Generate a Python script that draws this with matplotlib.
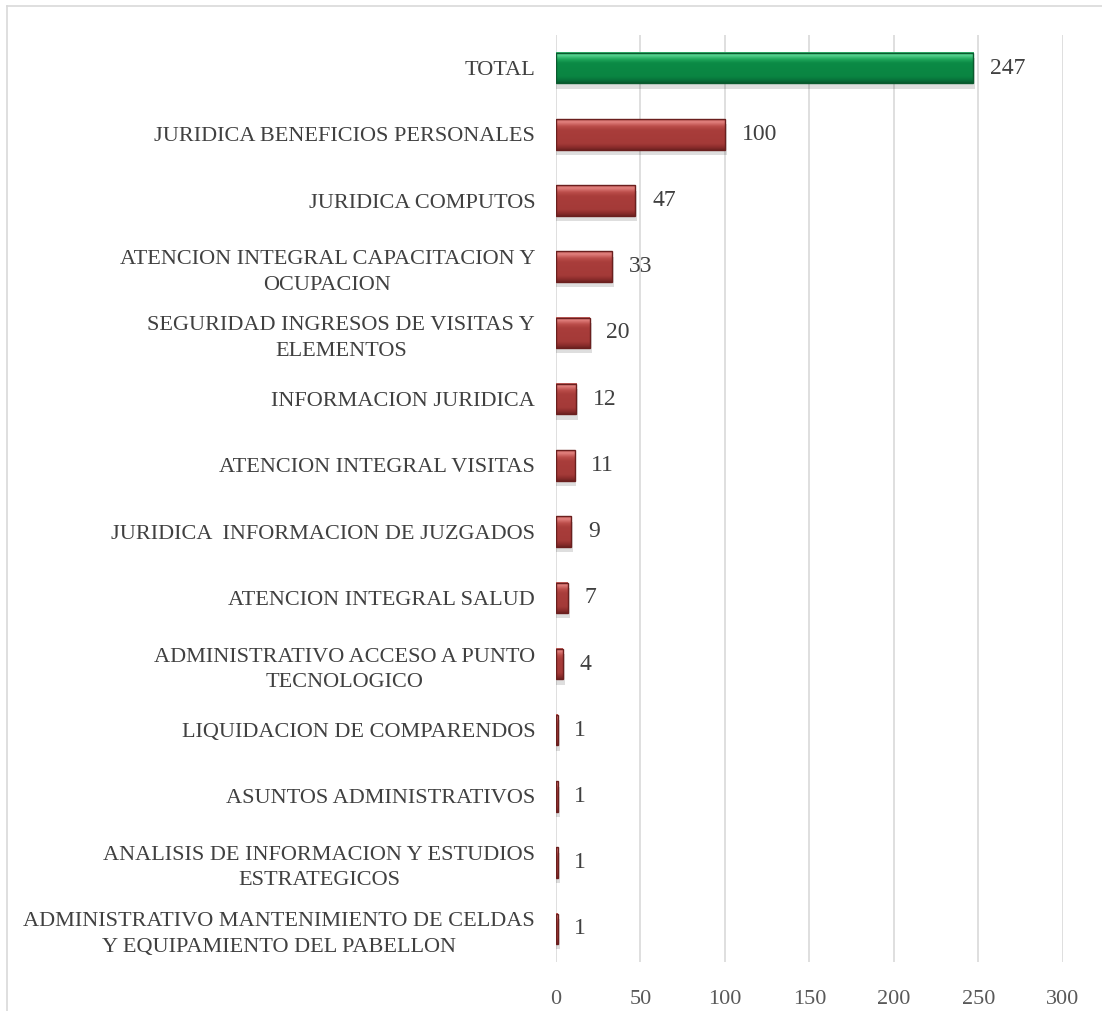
import matplotlib

matplotlib.use("Agg")
import matplotlib.pyplot as plt
import numpy as np
from matplotlib.colors import LinearSegmentedColormap
from matplotlib.lines import Line2D
from matplotlib.patches import Rectangle

# datos (de arriba hacia abajo)
CATEGORIAS = [
    "TOTAL",
    "JURIDICA BENEFICIOS PERSONALES",
    "JURIDICA COMPUTOS",
    "ATENCION INTEGRAL CAPACITACION Y\nOCUPACION",
    "SEGURIDAD INGRESOS DE VISITAS Y\nELEMENTOS",
    "INFORMACION JURIDICA",
    "ATENCION INTEGRAL VISITAS",
    "JURIDICA  INFORMACION DE JUZGADOS",
    "ATENCION INTEGRAL SALUD",
    "ADMINISTRATIVO ACCESO A PUNTO\nTECNOLOGICO",
    "LIQUIDACION DE COMPARENDOS",
    "ASUNTOS ADMINISTRATIVOS",
    "ANALISIS DE INFORMACION Y ESTUDIOS\nESTRATEGICOS",
    "ADMINISTRATIVO MANTENIMIENTO DE CELDAS\nY EQUIPAMIENTO DEL PABELLON",
]
VALORES = [247, 100, 47, 33, 20, 12, 11, 9, 7, 4, 1, 1, 1, 1]
XTICKS = [0, 50, 100, 150, 200, 250, 300]

# degradado vertical del bisel (arriba -> abajo) y borde
VERDE = ([(0.0, "#2FAE68"), (0.08, "#5ED896"), (0.22, "#20A85C"), (0.35, "#0B8A45"),
          (0.8, "#0A8542"), (0.92, "#08703A"), (1.0, "#065A2E")], "#0A5A2E")
ROJO = ([(0.0, "#C05A57"), (0.08, "#E48481"), (0.22, "#BC4E4B"), (0.35, "#A93D3B"),
         (0.8, "#A43A38"), (0.92, "#8A2C2B"), (1.0, "#6E2221")], "#6A1F1E")

plt.rcParams["font.family"] = ["Liberation Serif", "DejaVu Serif"]

fig = plt.figure(figsize=(11.02, 10.11), dpi=100)
ax = fig.add_axes([0.5045, 0.0485, 0.4601, 0.9169])

n = len(CATEGORIAS)
ys = list(range(n))
h = 0.46
grad = np.linspace(0, 1, 64).reshape(-1, 1)

for y, v in zip(ys, VALORES):
    colores, borde = VERDE if y == 0 else ROJO
    cmap = LinearSegmentedColormap.from_list("b", colores)
    # sombra
    ax.add_patch(Rectangle((0.3, y - h / 2 + 0.08), v + 0.8, h, color="#000000",
                           alpha=0.13, lw=0, zorder=2))
    ax.imshow(grad, cmap=cmap, aspect="auto", interpolation="bicubic",
              extent=(0, v, y + h / 2, y - h / 2), zorder=3)
    ax.add_patch(Rectangle((0, y - h / 2), v, h, fill=False, edgecolor=borde,
                           lw=1.0, zorder=4))
    ax.annotate(f"{v}", (v, y), xytext=(12, 0), textcoords="offset points",
                va="center", ha="left", fontsize=17, color="#404040", zorder=5)

ax.set_xlim(0, 300)
ax.set_ylim(n - 0.5, -0.5)
ax.set_xticks(XTICKS)
ax.set_yticks(ys)
ax.set_yticklabels(CATEGORIAS, fontsize=16, color="#404040",
                   multialignment="center", linespacing=1.45)
ax.tick_params(axis="y", length=0, pad=15)
ax.tick_params(axis="x", length=0, pad=20, labelsize=16, labelcolor="#595959")
ax.grid(True, axis="x", color="#D9D9D9", lw=1.2, zorder=0)
ax.set_axisbelow(True)
for s in ax.spines.values():
    s.set_visible(False)

# marco del gráfico
fig.add_artist(Line2D([0.0065, 0.0065], [0, 0.9945], transform=fig.transFigure,
                      color="#D9D9D9", lw=1.2))
fig.add_artist(Line2D([0.0065, 1.0], [0.9945, 0.9945], transform=fig.transFigure,
                      color="#D9D9D9", lw=1.2))

fig.savefig("out.png", dpi=100)
